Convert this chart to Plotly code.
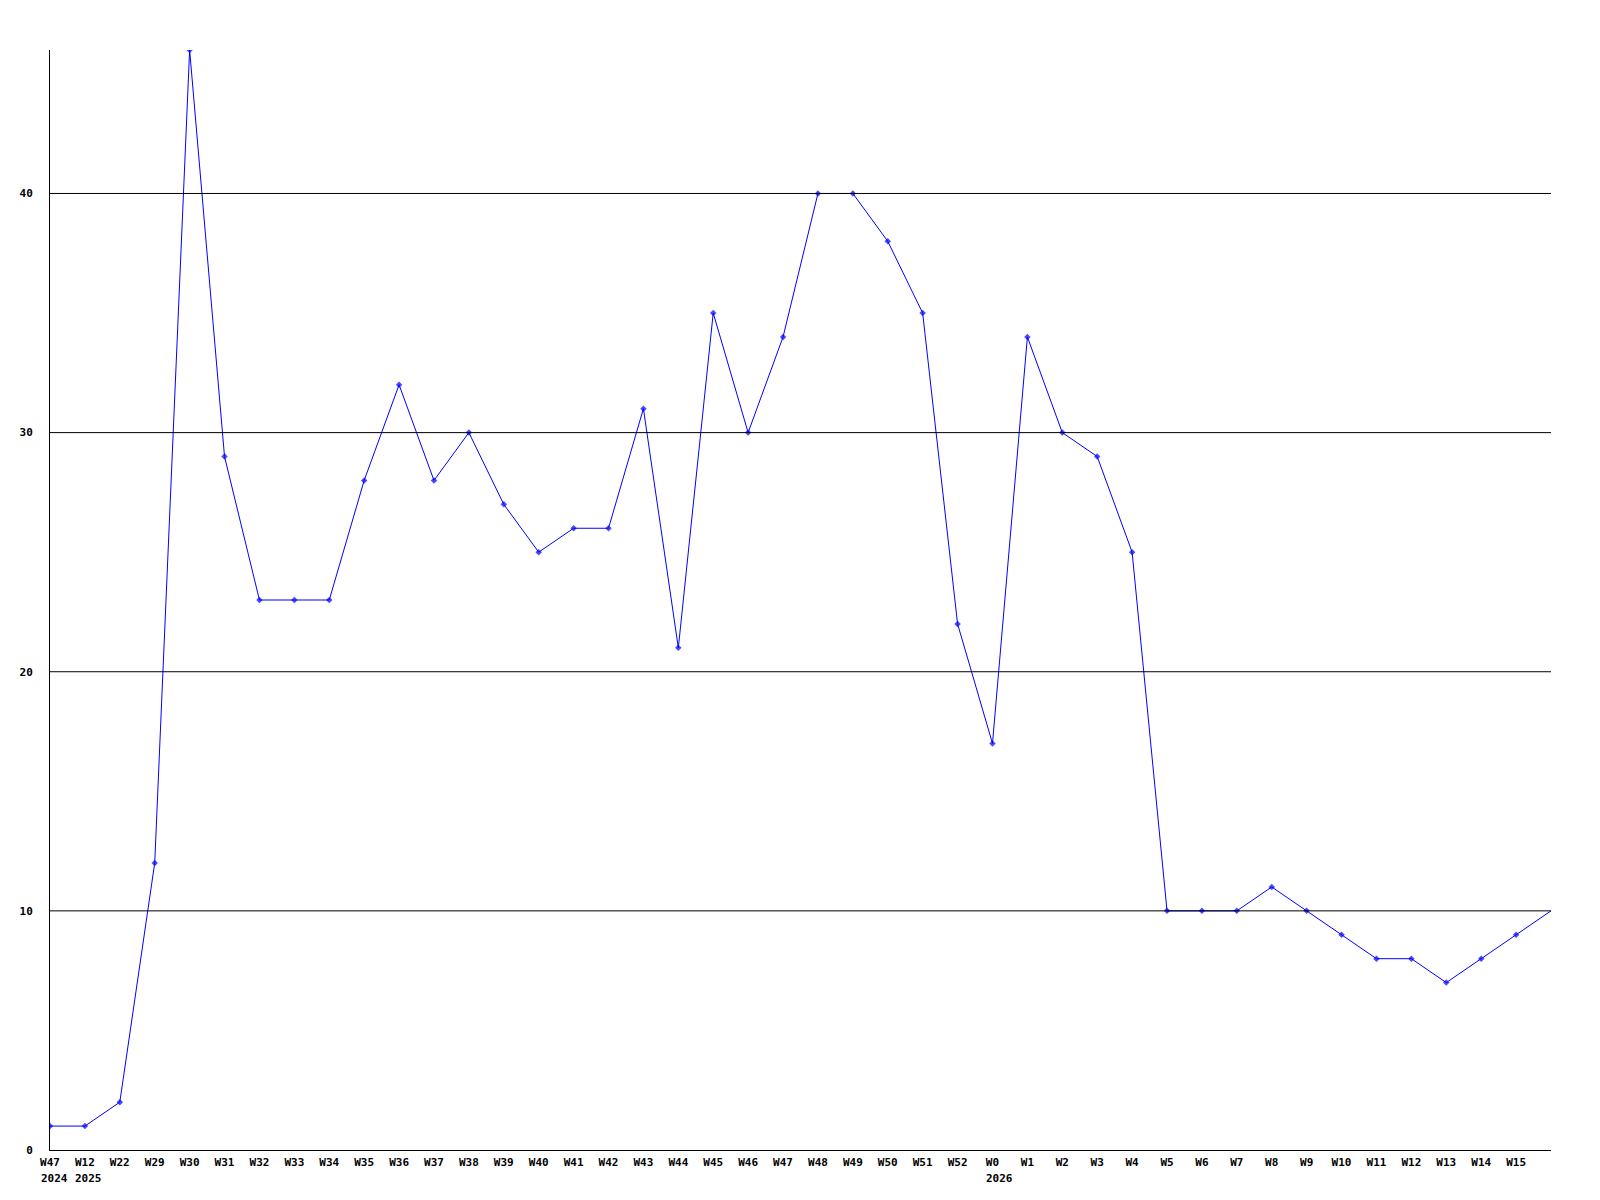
import plotly.graph_objs as go

weeks = ['W47', 'W12', 'W22', 'W29', 'W30', 'W31', 'W32', 'W33', 'W34', 'W35',
         'W36', 'W37', 'W38', 'W39', 'W40', 'W41', 'W42', 'W43', 'W44', 'W45',
         'W46', 'W47', 'W48', 'W49', 'W50', 'W51', 'W52', 'W0', 'W1', 'W2',
         'W3', 'W4', 'W5', 'W6', 'W7', 'W8', 'W9', 'W10', 'W11', 'W12',
         'W13', 'W14', 'W15']
# year labels shown under some week ticks
year_marks = {0: '2024', 1: '2025', 27: '2026'}
values = [1, 1, 2, 12, 46, 29, 23, 23, 23, 28,
          32, 28, 30, 27, 25, 26, 26, 31, 21, 35,
          30, 34, 40, 40, 38, 35, 22, 17, 34, 30,
          29, 25, 10, 10, 10, 11, 10, 9, 8, 8,
          7, 8, 9, 10]
y_ticks = [0, 10, 20, 30, 40]

font = dict(family='DejaVu Sans Mono', size=11, color='black', weight='bold')

xs = list(range(len(values)))
sizes = [5] * (len(values) - 1) + [0]

fig = go.Figure()
fig.add_trace(
    go.Scatter(
        x=xs,
        y=values,
        mode='lines+markers',
        line=dict(color='#0000ff', width=1),
        marker=dict(color='#0000ff', size=sizes, symbol='diamond', line=dict(width=0)),
        hoverinfo='x+y',
    )
)

# gridlines drawn on top of the data, like the original
shapes = [
    dict(type='line', xref='paper', yref='y', x0=0, x1=1, y0=t, y1=t,
         line=dict(color='#000000', width=1), layer='above', opacity=1)
    for t in y_ticks[1:]
]

annotations = [
    dict(x=i, y=0, xref='x', yref='paper', text=yr, showarrow=False,
         xanchor='left', yanchor='top', xshift=-len(weeks[i]) * 3.5 - 1, yshift=-20, font=font)
    for i, yr in year_marks.items()
]

fig.update_layout(
    width=1600,
    height=1200,
    template='simple_white',
    plot_bgcolor='white',
    paper_bgcolor='white',
    showlegend=False,
    margin=dict(l=42, r=57, t=42, b=58, autoexpand=False),
    font=font,
    shapes=shapes,
    annotations=annotations,
    xaxis=dict(
        range=[0, len(values) - 1],
        tickmode='array',
        tickvals=list(range(len(weeks))),
        ticktext=weeks,
        ticks='',
        showline=True,
        linecolor='black',
        linewidth=1,
        showgrid=False,
        zeroline=False,
        tickangle=0,
        tickfont=font,
        ticklabelstandoff=2,
    ),
    yaxis=dict(
        range=[0, 46],
        tickmode='array',
        tickvals=y_ticks,
        ticks='',
        showline=True,
        linecolor='black',
        linewidth=1,
        showgrid=False,
        zeroline=False,
        tickfont=font,
        ticklabelstandoff=14,
    ),
)

fig.write_html("out.html")
